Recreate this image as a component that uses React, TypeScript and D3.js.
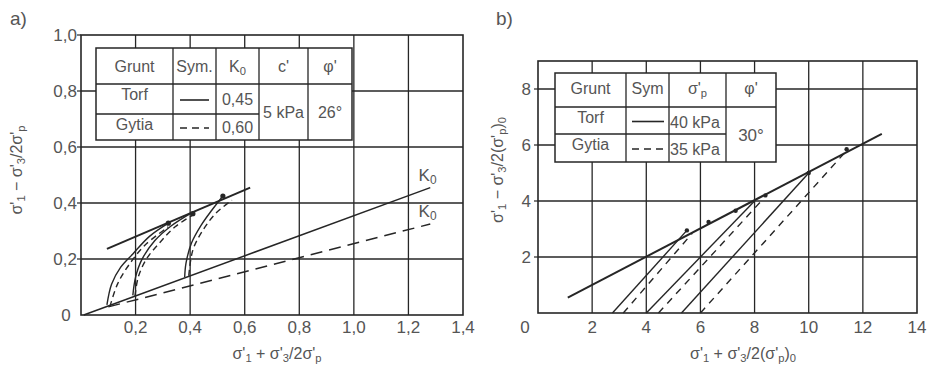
import React from "react";
import * as d3 from "d3";

// ---------- Panel a data ----------
const xTicksA = [0.2, 0.4, 0.6, 0.8, 1.0, 1.2, 1.4];
const yTicksA = [0.2, 0.4, 0.6, 0.8, 1.0];
const k0TorfA: [number, number][] = [[0.01, 0.0], [1.28, 0.455]];
const k0GytiaA: [number, number][] = [[0.1, 0.029], [1.28, 0.325]];
const envelopeA: [number, number][] = [[0.095, 0.236], [0.62, 0.455]];
const pathsTorfA: [number, number][][] = [
  [[0.095, 0.036], [0.112, 0.11], [0.145, 0.17], [0.19, 0.218], [0.25, 0.28], [0.32, 0.328]],
  [[0.19, 0.07], [0.2, 0.135], [0.222, 0.196], [0.27, 0.265], [0.33, 0.318], [0.405, 0.365]],
  [[0.38, 0.136], [0.385, 0.186], [0.405, 0.257], [0.44, 0.32], [0.48, 0.375], [0.52, 0.425]],
];
const pathsGytiaA: [number, number][][] = [
  [[0.106, 0.03], [0.135, 0.113], [0.18, 0.185], [0.235, 0.25], [0.32, 0.315]],
  [[0.198, 0.068], [0.21, 0.136], [0.24, 0.2], [0.29, 0.26], [0.345, 0.315], [0.41, 0.357]],
  [[0.395, 0.14], [0.41, 0.232], [0.447, 0.303], [0.495, 0.364], [0.553, 0.41]],
];
const peaksA: [number, number][] = [[0.32, 0.328], [0.41, 0.362], [0.52, 0.425]];

// ---------- Panel b data ----------
const xTicksB = [2, 4, 6, 8, 10, 12, 14];
const yTicksB = [2, 4, 6, 8];
const envelopeB: [number, number][] = [[1.1, 0.55], [12.7, 6.4]];
const pathsTorfB: [number, number][][] = [
  [[2.75, 0], [5.5, 2.95]],
  [[4.0, 0], [8.0, 4.0]],
  [[5.3, 0], [10.0, 5.0]],
];
const pathsGytiaB: [number, number][][] = [
  [[3.15, 0], [5.7, 2.85]],
  [[4.45, 0], [8.2, 3.95]],
  [[6.0, 0], [11.4, 5.8]],
];
const peaksB: [number, number][] = [[5.5, 2.95], [6.3, 3.25], [7.3, 3.65], [8.4, 4.2], [10.0, 5.0], [11.4, 5.85]];

// ---------- legend tables ----------
const tableHeadA = ["Grunt", "Sym.", "K₀", "c'", "φ'"];
const soilsA = ["Torf", "Gytia"];
const k0ValuesA = ["0,45", "0,60"];
const cValueA = "5 kPa";
const phiValueA = "26°";

const tableHeadB = ["Grunt", "Sym", "σ'ₚ", "φ'"];
const soilsB = ["Torf", "Gytia"];
const sigmaPValuesB = ["40 kPa", "35 kPa"];
const phiValueB = "30°";

const INK = "#262626";
const TXT = "#555";
const FONT = "'Liberation Sans', Arial, Helvetica, sans-serif";

const fmtComma = (v: number) => d3.format(".1f")(v).replace(".", ",");

const S = ({ children }: { children: React.ReactNode }) => (
  <tspan baselineShift="-25%" fontSize="0.7em">{children}</tspan>
);

export default function App() {
  const xA = d3.scaleLinear().domain([0, 1.4]).range([81, 463]);
  const yA = d3.scaleLinear().domain([0, 1]).range([315, 35]);
  const xB = d3.scaleLinear().domain([0, 14]).range([538, 917]);
  const yB = d3.scaleLinear().domain([0, 9]).range([313, 61]);

  const lineA = d3.line<[number, number]>().x((d) => xA(d[0])).y((d) => yA(d[1]));
  const curveA = d3
    .line<[number, number]>()
    .x((d) => xA(d[0]))
    .y((d) => yA(d[1]))
    .curve(d3.curveCatmullRom.alpha(0.5));
  const lineB = d3.line<[number, number]>().x((d) => xB(d[0])).y((d) => yB(d[1]));

  const tA = { cols: [96, 173, 216, 259, 308, 352], rows: [48, 84, 114, 140] };
  const tB = { cols: [555, 626, 669, 726, 776], rows: [73, 107, 134, 162] };

  return (
    <svg width={931} height={371} style={{ display: "block", position: "absolute", left: 0, top: 0, background: "#fff" }} fontFamily={FONT}>
      <rect x={0} y={0} width={931} height={371} fill="#fff" />

      {/* ================= PANEL A ================= */}
      <text x={10} y={25} fontSize={19} fill={TXT}>a)</text>
      {xTicksA.slice(0, -1).map((t) => (
        <line key={"gx" + t} x1={xA(t)} x2={xA(t)} y1={yA(0)} y2={yA(1)} stroke={INK} strokeWidth={1.3} />
      ))}
      {yTicksA.slice(0, -1).map((t) => (
        <line key={"gy" + t} x1={xA(0)} x2={xA(1.4)} y1={yA(t)} y2={yA(t)} stroke={INK} strokeWidth={1.3} />
      ))}
      <rect x={xA(0)} y={yA(1)} width={xA(1.4) - xA(0)} height={yA(0) - yA(1)} fill="none" stroke={INK} strokeWidth={1.6} />
      {yTicksA.map((t) => (
        <line key={"tk" + t} x1={xA(0) - 4} x2={xA(0)} y1={yA(t)} y2={yA(t)} stroke={INK} strokeWidth={1.2} />
      ))}
      {yTicksA.map((t) => (
        <text key={"yl" + t} x={xA(0) - 4} y={yA(t) + 6} fontSize={17} textAnchor="end" fill={TXT}>{fmtComma(t)}</text>
      ))}
      <text x={66} y={yA(0) + 6} fontSize={17} textAnchor="middle" fill={TXT}>0</text>
      {xTicksA.map((t) => (
        <text key={"xl" + t} x={xA(t)} y={333} fontSize={17} textAnchor="middle" fill={TXT}>{fmtComma(t)}</text>
      ))}
      <text x={277} y={359} fontSize={16} textAnchor="middle" fill={TXT}>
        σ'<S>1</S> + σ'<S>3</S>/2σ'<S>p</S>
      </text>
      <text transform={`translate(22,170) rotate(-90)`} fontSize={16} textAnchor="middle" fill={TXT}>
        σ'<S>1</S> − σ'<S>3</S>/2σ'<S>p</S>
      </text>

      <path d={lineA(k0TorfA) ?? ""} fill="none" stroke={INK} strokeWidth={1.5} />
      <path d={lineA(k0GytiaA) ?? ""} fill="none" stroke={INK} strokeWidth={1.5} strokeDasharray="12,7" />
      <path d={lineA(envelopeA) ?? ""} fill="none" stroke={INK} strokeWidth={2} />
      {pathsTorfA.map((p, i) => (
        <path key={"pta" + i} d={curveA(p) ?? ""} fill="none" stroke={INK} strokeWidth={1.4} />
      ))}
      {pathsGytiaA.map((p, i) => (
        <path key={"pga" + i} d={curveA(p) ?? ""} fill="none" stroke={INK} strokeWidth={1.4} strokeDasharray="6,4" />
      ))}
      {peaksA.map((p, i) => (
        <circle key={"pka" + i} cx={xA(p[0])} cy={yA(p[1])} r={2.6} fill={INK} />
      ))}
      <text x={xA(1.27)} y={yA(0.5) + 6} fontSize={17} textAnchor="middle" fill={TXT}>K<S>0</S></text>
      <text x={xA(1.27)} y={yA(0.37) + 6} fontSize={17} textAnchor="middle" fill={TXT}>K<S>0</S></text>

      <g>
        <rect x={tA.cols[0]} y={tA.rows[0]} width={tA.cols[5] - tA.cols[0]} height={tA.rows[3] - tA.rows[0]} fill="#fff" stroke={INK} strokeWidth={1.5} />
        {tA.cols.slice(1, -1).map((c) => (
          <line key={"tac" + c} x1={c} x2={c} y1={tA.rows[0]} y2={tA.rows[3]} stroke={INK} strokeWidth={1.3} />
        ))}
        <line x1={tA.cols[0]} x2={tA.cols[5]} y1={tA.rows[1]} y2={tA.rows[1]} stroke={INK} strokeWidth={1.3} />
        <line x1={tA.cols[0]} x2={tA.cols[3]} y1={tA.rows[2]} y2={tA.rows[2]} stroke={INK} strokeWidth={1.3} />
        {tableHeadA.map((h, i) => (
          <text key={"tah" + i} x={(tA.cols[i] + tA.cols[i + 1]) / 2} y={(tA.rows[0] + tA.rows[1]) / 2 + 6} fontSize={16} textAnchor="middle" fill={TXT}>
            {h === "K₀" ? (<>K<S>0</S></>) : h}
          </text>
        ))}
        {soilsA.map((s, i) => {
          const cy = (tA.rows[i + 1] + tA.rows[i + 2]) / 2;
          return (
            <g key={"tar" + i}>
              <text x={(tA.cols[0] + tA.cols[1]) / 2} y={cy + 3 - (i === 0 ? 2 : 0)} fontSize={16} textAnchor="middle" fill={TXT}>{s}</text>
              <line x1={tA.cols[1] + 7} x2={tA.cols[2] - 7} y1={cy + 1} y2={cy + 1} stroke={INK} strokeWidth={1.6} strokeDasharray={i === 0 ? undefined : "7,5"} />
              <text x={(tA.cols[2] + tA.cols[3]) / 2} y={cy + 6} fontSize={16} textAnchor="middle" fill={TXT}>{k0ValuesA[i]}</text>
            </g>
          );
        })}
        <text x={(tA.cols[3] + tA.cols[4]) / 2} y={(tA.rows[1] + tA.rows[3]) / 2 + 6} fontSize={16} textAnchor="middle" fill={TXT}>{cValueA}</text>
        <text x={(tA.cols[4] + tA.cols[5]) / 2} y={(tA.rows[1] + tA.rows[3]) / 2 + 6} fontSize={16} textAnchor="middle" fill={TXT}>{phiValueA}</text>
      </g>

      {/* ================= PANEL B ================= */}
      <text x={496} y={25} fontSize={19} fill={TXT}>b)</text>
      {xTicksB.slice(0, -1).map((t) => (
        <line key={"bgx" + t} x1={xB(t)} x2={xB(t)} y1={yB(0)} y2={yB(9)} stroke={INK} strokeWidth={1.3} />
      ))}
      {yTicksB.map((t) => (
        <line key={"bgy" + t} x1={xB(0)} x2={xB(14)} y1={yB(t)} y2={yB(t)} stroke={INK} strokeWidth={1.3} />
      ))}
      <rect x={xB(0)} y={yB(9)} width={xB(14) - xB(0)} height={yB(0) - yB(9)} fill="none" stroke={INK} strokeWidth={1.6} />
      {yTicksB.map((t) => (
        <line key={"btk" + t} x1={xB(0) - 4} x2={xB(0)} y1={yB(t)} y2={yB(t)} stroke={INK} strokeWidth={1.2} />
      ))}
      {yTicksB.map((t) => (
        <text key={"byl" + t} x={xB(0) - 7} y={yB(t) + 6} fontSize={17} textAnchor="end" fill={TXT}>{t}</text>
      ))}
      <text x={525} y={333} fontSize={17} textAnchor="middle" fill={TXT}>0</text>
      {xTicksB.map((t) => (
        <text key={"bxl" + t} x={xB(t)} y={333} fontSize={17} textAnchor="middle" fill={TXT}>{t}</text>
      ))}
      <text x={743} y={359} fontSize={16} textAnchor="middle" fill={TXT}>
        σ'<S>1</S> + σ'<S>3</S>/2(σ'<S>p</S>)<S>0</S>
      </text>
      <text transform={`translate(503,170) rotate(-90)`} fontSize={16} textAnchor="middle" fill={TXT}>
        σ'<S>1</S> − σ'<S>3</S>/2(σ'<S>p</S>)<S>0</S>
      </text>

      <path d={lineB(envelopeB) ?? ""} fill="none" stroke={INK} strokeWidth={2} />
      {pathsTorfB.map((p, i) => (
        <path key={"ptb" + i} d={lineB(p) ?? ""} fill="none" stroke={INK} strokeWidth={1.4} />
      ))}
      {pathsGytiaB.map((p, i) => (
        <path key={"pgb" + i} d={lineB(p) ?? ""} fill="none" stroke={INK} strokeWidth={1.4} strokeDasharray="7,6" />
      ))}
      {peaksB.map((p, i) => (
        <circle key={"pkb" + i} cx={xB(p[0])} cy={yB(p[1])} r={2.2} fill={INK} />
      ))}

      <g>
        <rect x={tB.cols[0]} y={tB.rows[0]} width={tB.cols[4] - tB.cols[0]} height={tB.rows[3] - tB.rows[0]} fill="#fff" stroke={INK} strokeWidth={1.5} />
        {tB.cols.slice(1, -1).map((c) => (
          <line key={"tbc" + c} x1={c} x2={c} y1={tB.rows[0]} y2={tB.rows[3]} stroke={INK} strokeWidth={1.3} />
        ))}
        <line x1={tB.cols[0]} x2={tB.cols[4]} y1={tB.rows[1]} y2={tB.rows[1]} stroke={INK} strokeWidth={1.3} />
        <line x1={tB.cols[0]} x2={tB.cols[3]} y1={tB.rows[2]} y2={tB.rows[2]} stroke={INK} strokeWidth={1.3} />
        {tableHeadB.map((h, i) => (
          <text key={"tbh" + i} x={(tB.cols[i] + tB.cols[i + 1]) / 2} y={(tB.rows[0] + tB.rows[1]) / 2 + 4} fontSize={16} textAnchor="middle" fill={TXT}>
            {h === "σ'ₚ" ? (<>σ'<S>p</S></>) : h}
          </text>
        ))}
        {soilsB.map((s, i) => {
          const cy = (tB.rows[i + 1] + tB.rows[i + 2]) / 2;
          return (
            <g key={"tbr" + i}>
              <text x={(tB.cols[0] + tB.cols[1]) / 2} y={cy + 2} fontSize={16} textAnchor="middle" fill={TXT}>{s}</text>
              <line x1={tB.cols[1] + 6} x2={tB.cols[2] - 5} y1={cy + 1} y2={cy + 1} stroke={INK} strokeWidth={1.6} strokeDasharray={i === 0 ? undefined : "7,5"} />
              <text x={tB.cols[2] + 1} y={cy + 7} fontSize={16} textAnchor="start" fill={TXT}>{sigmaPValuesB[i]}</text>
            </g>
          );
        })}
        <text x={(tB.cols[3] + tB.cols[4]) / 2} y={(tB.rows[1] + tB.rows[3]) / 2 + 6} fontSize={17} textAnchor="middle" fill={TXT}>{phiValueB}</text>
      </g>
    </svg>
  );
}
